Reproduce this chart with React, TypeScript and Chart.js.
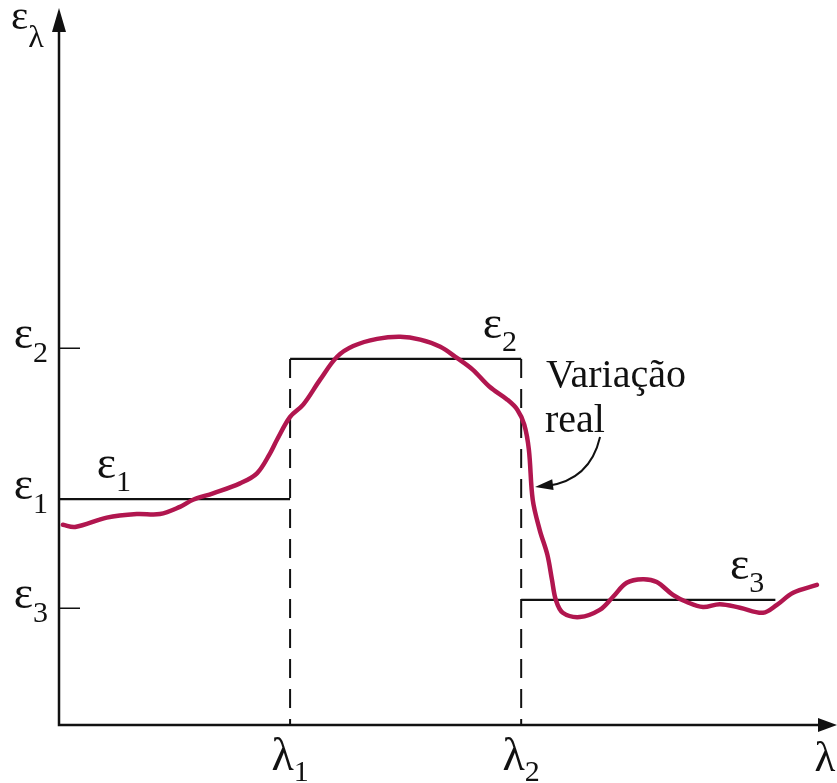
import React, { useEffect, useRef } from 'react';
import { Chart, registerables } from 'chart.js';

Chart.register(...registerables);

// Spectral emissivity of a real surface (arbitrary units) versus wavelength
const wavelength = [
  0.05, 0.21, 0.62, 1.01, 1.31, 1.57, 1.74, 2.0, 2.35, 2.57,
  2.74, 2.83, 3.0, 3.17, 3.39, 3.61, 3.82, 4.13, 4.43, 4.69,
  4.95, 5.17, 5.37, 5.59, 5.82, 5.95, 6.04, 6.1, 6.15, 6.24,
  6.34, 6.4, 6.45, 6.54, 6.76, 7.02, 7.19, 7.37, 7.58, 7.76,
  7.97, 8.15, 8.36, 8.58, 8.84, 9.14, 9.32, 9.53, 9.84,
];
const emissivity = [
  0.280, 0.277, 0.290, 0.295, 0.295, 0.305, 0.315, 0.324, 0.338, 0.352,
  0.380, 0.399, 0.431, 0.448, 0.483, 0.515, 0.530, 0.540, 0.543, 0.539,
  0.529, 0.513, 0.497, 0.473, 0.455, 0.441, 0.420, 0.385, 0.315, 0.273,
  0.238, 0.203, 0.175, 0.157, 0.151, 0.161, 0.179, 0.199, 0.204, 0.200,
  0.182, 0.172, 0.165, 0.169, 0.164, 0.157, 0.168, 0.185, 0.196,
];

// Band approximation: constant emissivity in each wavelength band
const bandEdges = [0, 3, 6, 9.3];
const bandLevels = [0.316, 0.512, 0.175];
const bandLabels = ['ε1', 'ε2', 'ε3'];
const bandLabelX = [0.49, 5.5, 8.71];

// Axis ticks
const yTickValues = [0.164, 0.316, 0.527];
const yTickLabels = ['ε3', 'ε1', 'ε2'];
const xTickValues = [3, 6];
const xTickLabels = ['λ1', 'λ2'];
const xAxisTitle = 'λ';
const yAxisTitle = 'ελ';

// Callout pointing at the measured curve
const calloutLines = ['Variação', 'real'];
const calloutTarget = { x: 6.18, y: 0.333 };

const SERIF = '"Liberation Serif", "Times New Roman", serif';
const INK = '#111111';
const CURVE = '#b1164f';

type Ctx = CanvasRenderingContext2D;

// Draws a symbol whose first character is the base and the rest is a subscript
function drawSymbol(
  ctx: Ctx,
  text: string,
  x: number,
  y: number,
  size: number,
  subSize: number,
  drop: number,
  align: 'left' | 'center' | 'right'
) {
  const base = text[0];
  const sub = text.slice(1);
  ctx.textAlign = 'left';
  ctx.textBaseline = 'alphabetic';
  ctx.font = `${size}px ${SERIF}`;
  const wb = ctx.measureText(base).width;
  ctx.font = `${subSize}px ${SERIF}`;
  const ws = sub ? ctx.measureText(sub).width : 0;
  const total = wb + ws;
  let start = x;
  if (align === 'center') start = x - total / 2;
  if (align === 'right') start = x - total;
  ctx.font = `${size}px ${SERIF}`;
  ctx.fillText(base, start, y);
  if (sub) {
    ctx.font = `${subSize}px ${SERIF}`;
    ctx.fillText(sub, start + wb, y + drop);
  }
}

const figurePlugin = {
  id: 'emissivityFigure',
  afterDraw(chart: any) {
    const { ctx, chartArea, scales } = chart;
    const xs = scales.x;
    const ys = scales.y;
    const x0 = xs.getPixelForValue(0);
    const y0 = ys.getPixelForValue(0);
    const right = chartArea.right;
    const top = chartArea.top;

    ctx.save();
    ctx.strokeStyle = INK;
    ctx.fillStyle = INK;

    // Axes with arrow heads
    ctx.lineWidth = 2.5;
    ctx.beginPath();
    ctx.moveTo(x0, y0 + 1.25);
    ctx.lineTo(x0, top + 20);
    ctx.moveTo(x0 - 1.25, y0);
    ctx.lineTo(right - 17, y0);
    ctx.stroke();

    ctx.beginPath();
    ctx.moveTo(x0, top - 2);
    ctx.lineTo(x0 - 7, top + 22);
    ctx.lineTo(x0 + 7, top + 22);
    ctx.closePath();
    ctx.fill();

    ctx.beginPath();
    ctx.moveTo(right, y0);
    ctx.lineTo(right - 19, y0 - 7);
    ctx.lineTo(right - 19, y0 + 7);
    ctx.closePath();
    ctx.fill();

    // Y tick marks (drawn inward)
    ctx.lineWidth = 1.5;
    ctx.beginPath();
    yTickValues.forEach((v) => {
      const py = Math.round(ys.getPixelForValue(v)) + 0.25;
      ctx.moveTo(x0, py);
      ctx.lineTo(x0 + 21, py);
    });
    ctx.stroke();

    // Y tick labels
    yTickValues.forEach((v, i) => {
      drawSymbol(ctx, yTickLabels[i], x0 - 11, ys.getPixelForValue(v), 46, 30, 14, 'right');
    });

    // X tick labels
    xTickValues.forEach((v, i) => {
      drawSymbol(ctx, xTickLabels[i], xs.getPixelForValue(v), y0 + 45, 46, 30, 11, 'center');
    });

    // Axis titles
    drawSymbol(ctx, xAxisTitle, right - 12, y0 + 46, 43, 30, 0, 'center');
    ctx.font = `41px ${SERIF}`;
    ctx.textAlign = 'left';
    ctx.textBaseline = 'alphabetic';
    ctx.fillText(yAxisTitle[0], 11, 29);
    const we = ctx.measureText(yAxisTitle[0]).width;
    ctx.font = `32px ${SERIF}`;
    ctx.fillText(yAxisTitle.slice(1), 11 + we, 47);

    // Band labels above each level
    bandLabels.forEach((label, i) => {
      drawSymbol(
        ctx,
        label,
        xs.getPixelForValue(bandLabelX[i]),
        ys.getPixelForValue(bandLevels[i]) - 21,
        46,
        30,
        13,
        'left'
      );
    });

    // Callout text and curved arrow
    const tx = xs.getPixelForValue(calloutTarget.x);
    const ty = ys.getPixelForValue(calloutTarget.y);
    ctx.font = `40px ${SERIF}`;
    ctx.textAlign = 'left';
    ctx.textBaseline = 'alphabetic';
    ctx.fillText(calloutLines[0], tx + 11, ty - 100);
    ctx.fillText(calloutLines[1], tx + 10, ty - 55);

    const sx = tx + 65;
    const sy = ty - 50;
    const cx = tx + 55;
    const cy = ty - 7;
    const ex = tx + 12;
    const ey = ty - 1;
    ctx.lineWidth = 2;
    ctx.beginPath();
    ctx.moveTo(sx, sy);
    ctx.quadraticCurveTo(cx, cy, ex, ey);
    ctx.stroke();
    const ang = Math.atan2(ty - cy, tx - cx);
    const len = 18;
    const half = 5.5;
    ctx.beginPath();
    ctx.moveTo(tx, ty);
    ctx.lineTo(
      tx - len * Math.cos(ang) + half * Math.sin(ang),
      ty - len * Math.sin(ang) - half * Math.cos(ang)
    );
    ctx.lineTo(
      tx - len * Math.cos(ang) - half * Math.sin(ang),
      ty - len * Math.sin(ang) + half * Math.cos(ang)
    );
    ctx.closePath();
    ctx.fill();

    ctx.restore();
  },
};

export default function App() {
  const canvasRef = useRef<HTMLCanvasElement | null>(null);

  useEffect(() => {
    const canvas = canvasRef.current;
    if (!canvas) return;

    const curve = wavelength.map((x, i) => ({ x, y: emissivity[i] }));

    const levelSets = bandLevels.map((level, i) => ({
      data: [
        { x: bandEdges[i], y: level },
        { x: bandEdges[i + 1], y: level },
      ],
      borderColor: INK,
      borderWidth: 2.2,
      pointRadius: 0,
      tension: 0,
      order: 2,
    }));

    // Dashed band boundaries, drawn from the upper level down to the axis
    const boundarySets = [1, 2].map((i) => ({
      data: [
        { x: bandEdges[i], y: Math.max(bandLevels[i - 1], bandLevels[i]) },
        { x: bandEdges[i], y: 0 },
      ],
      borderColor: INK,
      borderWidth: 2,
      borderDash: [19, 11],
      pointRadius: 0,
      tension: 0,
      order: 2,
    }));

    const chart = new Chart(canvas, {
      type: 'line',
      data: {
        datasets: [
          {
            data: curve,
            borderColor: CURVE,
            borderWidth: 4.5,
            pointRadius: 0,
            tension: 0.35,
            borderCapStyle: 'round',
            borderJoinStyle: 'round',
            order: 1,
          } as any,
          ...levelSets,
          ...boundarySets,
        ],
      },
      options: {
        animation: false,
        responsive: false,
        devicePixelRatio: 1,
        layout: { padding: { left: 59, right: 0, top: 10, bottom: 58 } },
        scales: {
          x: { type: 'linear', min: 0, max: 10.1, display: false },
          y: { type: 'linear', min: 0, max: 1, display: false },
        },
        plugins: {
          legend: { display: false },
          tooltip: { enabled: false },
        },
        events: [],
      },
      plugins: [figurePlugin],
    });

    return () => chart.destroy();
  }, []);

  return (
    <div style={{ position: 'fixed', left: 0, top: 0, width: 837, height: 783, background: '#ffffff' }}>
      <canvas ref={canvasRef} width={837} height={783} style={{ width: 837, height: 783, display: 'block' }} />
    </div>
  );
}
